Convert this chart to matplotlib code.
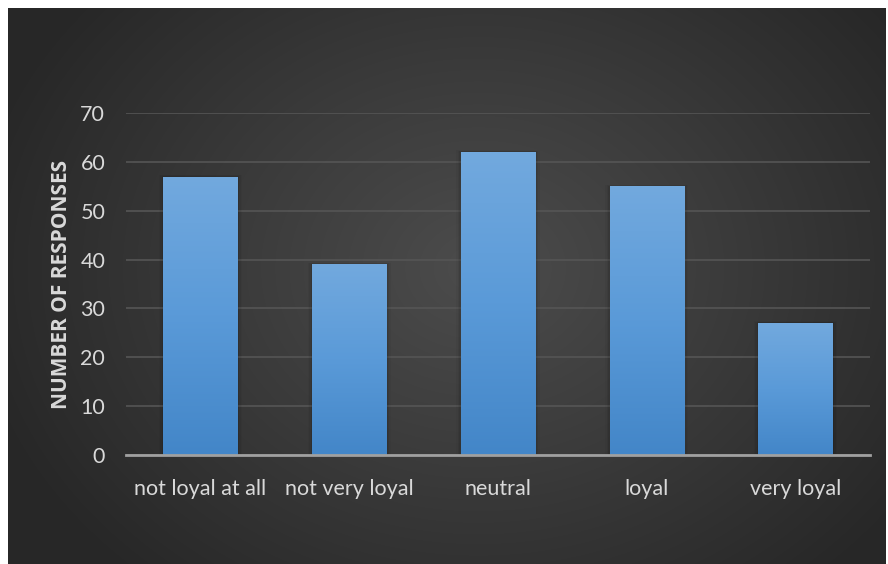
import numpy as np
import matplotlib
matplotlib.use("Agg")
import matplotlib.pyplot as plt
from matplotlib.colors import LinearSegmentedColormap

# survey data
categories = ["not loyal at all", "not very loyal", "neutral", "loyal", "very loyal"]
responses = [57, 39, 62, 55, 27]
y_ticks = [0, 10, 20, 30, 40, 50, 60, 70]

plt.rcParams['font.family'] = ['Lato', 'DejaVu Sans']

W, H = 888, 564
fig = plt.figure(figsize=(W / 100, H / 100), dpi=100, facecolor="white")

# dark radial background panel
bg = fig.add_axes([8 / W, 0, (886 - 8) / W, 556 / H])
bg.set_axis_off()
yy, xx = np.mgrid[0:556, 0:878]
cx, cy = 470, 260
d = np.sqrt(((xx - cx) / 520.0) ** 2 + ((yy - cy) / 420.0) ** 2)
d = np.clip(d, 0, 1)
bg_cmap = LinearSegmentedColormap.from_list("bg", ["#4c4c4c", "#3a3a3a", "#272727"])
bg.imshow(d, cmap=bg_cmap, vmin=0, vmax=1, aspect="auto", interpolation="bilinear")

# main chart
ax = fig.add_axes([126 / W, 109 / H, (870 - 126) / W, (455 - 113) / H])
ax.set_facecolor("none")
x = np.arange(len(categories))
bars = ax.bar(x, responses, width=0.5, color="none", zorder=3)

bar_cmap = LinearSegmentedColormap.from_list("bar", ["#4386c8", "#5a9ad8", "#72a9de"])
grad = np.linspace(0, 1, 256).reshape(-1, 1)
for b in bars:
    x0, w, h = b.get_x(), b.get_width(), b.get_height()
    # soft drop shadow
    for k, a in enumerate([0.07, 0.05, 0.03]):
        off = 0.01 * (k + 1)
        ax.add_patch(plt.Rectangle((x0 - off, 0), w + off * 2, h + off * 12,
                                   color="black", alpha=a, lw=0, zorder=2))
    im = ax.imshow(grad, cmap=bar_cmap, extent=[x0, x0 + w, 0, h], origin="lower",
                   aspect="auto", zorder=3)
    im.set_clip_path(b)

ax.set_xlim(-0.5, len(categories) - 0.5)
ax.set_ylim(0, 70)
ax.set_yticks(y_ticks)
ax.set_xticks(x)
ax.set_xticklabels(categories)
ax.grid(axis="y", color="#555555", lw=1.2, zorder=0)
ax.set_axisbelow(True)
for s in ["top", "right", "left"]:
    ax.spines[s].set_visible(False)
ax.spines["bottom"].set_color("#a0a0a0")
ax.spines["bottom"].set_linewidth(2)
ax.spines["bottom"].set_zorder(4)
ax.tick_params(axis="both", length=0, colors="#d9d9d9", labelsize=15.5)
ax.tick_params(axis="y", pad=15)
ax.tick_params(axis="x", pad=17)
ax.set_ylabel("NUMBER OF RESPONSES", color="#d9d9d9", fontsize=15,
              fontweight="bold", family=["Open Sans", "DejaVu Sans"], labelpad=6)

fig.savefig("out.png", dpi=100, facecolor="white")
